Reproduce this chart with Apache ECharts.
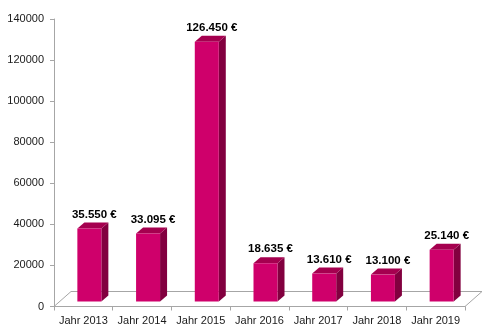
<!DOCTYPE html>
<html>
<head>
<meta charset="utf-8">
<script src="https://cdn.jsdelivr.net/npm/echarts@6/dist/echarts.min.js"></script>
<style>
  html, body { margin: 0; padding: 0; background: #fff; }
  #chart { width: 500px; height: 333px; }
</style>
</head>
<body>
<div id="chart"></div>
<script>
// Yearly amounts in euro
const categories = ['Jahr 2013', 'Jahr 2014', 'Jahr 2015', 'Jahr 2016', 'Jahr 2017', 'Jahr 2018', 'Jahr 2019'];
const amounts = [35550, 33095, 126450, 18635, 13610, 13100, 25140];
const valueLabels = ['35.550 €', '33.095 €', '126.450 €', '18.635 €', '13.610 €', '13.100 €', '25.140 €'];

const FONT = '"Liberation Sans", Arial, sans-serif';
const FRONT = '#CF006B';
const SIDE = '#82003F';
const TOP = '#A5004F';

// pseudo-3D geometry (pixels)
const FLOOR_DX = 17, FLOOR_DY = -15;   // depth of the floor plane
const BAR_DX = 6, BAR_DY = -5;         // bar front face offset inside the floor
const SIDE_DX = 7, SIDE_DY = -6;       // bar depth
const BAR_W = 24;

const chart = echarts.init(document.getElementById('chart'), null, { renderer: 'canvas' });

function renderFloor(params, api) {
  const cs = params.coordSys;
  const x0 = cs.x, x1 = cs.x + cs.width, y = cs.y + cs.height;
  return {
    type: 'polyline',
    shape: {
      points: [[x0, y], [x0 + FLOOR_DX, y + FLOOR_DY], [x1 + FLOOR_DX, y + FLOOR_DY], [x1, y]]
    },
    style: { stroke: '#a6a6a6', lineWidth: 1, fill: null }
  };
}

function renderBar(params, api) {
  const idx = api.value(0);
  const val = api.value(1);
  const top = api.coord([idx, val]);
  const base = api.coord([idx, 0]);
  const cx = top[0] + BAR_DX;
  const xl = cx - BAR_W / 2, xr = cx + BAR_W / 2;
  const yb = base[1] + BAR_DY;
  const yt = top[1] + BAR_DY;
  return {
    type: 'group',
    children: [
      {
        type: 'polygon',
        shape: { points: [[xr, yt], [xr + SIDE_DX, yt + SIDE_DY], [xr + SIDE_DX, yb + SIDE_DY], [xr, yb]] },
        style: { fill: SIDE }
      },
      {
        type: 'polygon',
        shape: { points: [[xl, yt], [xl + SIDE_DX, yt + SIDE_DY], [xr + SIDE_DX, yt + SIDE_DY], [xr, yt]] },
        style: { fill: TOP }
      },
      {
        type: 'rect',
        shape: { x: xl, y: yt, width: BAR_W, height: yb - yt },
        style: { fill: FRONT }
      },
      {
        type: 'text',
        style: {
          x: cx + 5,
          y: yt - 14,
          text: valueLabels[idx],
          font: 'bold 11.5px ' + FONT,
          fill: '#000',
          align: 'center',
          verticalAlign: 'middle'
        }
      }
    ]
  };
}

chart.setOption({
  animation: false,
  backgroundColor: '#fff',
  grid: { left: 54, right: 35, top: 19, bottom: 26.5 },
  xAxis: {
    type: 'category',
    data: categories,
    boundaryGap: true,
    axisLine: { show: true, lineStyle: { color: '#a6a6a6', width: 1 } },
    axisTick: { show: true, length: 4, lineStyle: { color: '#a6a6a6' } },
    axisLabel: { color: '#1a1a1a', fontSize: 11, fontFamily: FONT, margin: 9, interval: 0 },
    splitLine: { show: false }
  },
  yAxis: {
    type: 'value',
    min: 0,
    max: 140000,
    interval: 20000,
    axisLine: { show: true, lineStyle: { color: '#a6a6a6', width: 1 } },
    axisTick: { show: true, length: 4, lineStyle: { color: '#a6a6a6' } },
    axisLabel: { color: '#1a1a1a', fontSize: 11, fontFamily: FONT, margin: 10, formatter: (v) => String(v) },
    splitLine: { show: false }
  },
  series: [
    {
      type: 'custom',
      z: 1,
      renderItem: renderFloor,
      data: [[0, 0]],
      silent: true
    },
    {
      type: 'custom',
      z: 2,
      renderItem: renderBar,
      data: amounts.map((v, i) => [i, v]),
      silent: true
    }
  ]
});
</script>
</body>
</html>
